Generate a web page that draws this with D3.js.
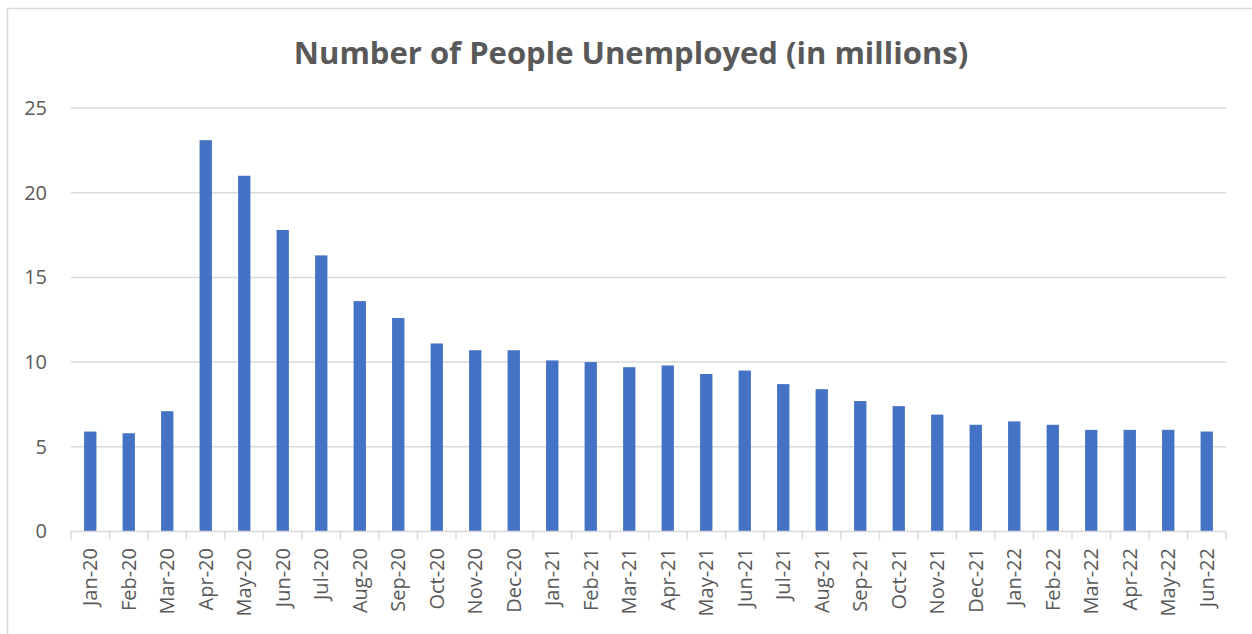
<!DOCTYPE html>
<html>
<head>
<meta charset="utf-8">
<script src="https://cdn.jsdelivr.net/npm/d3@7"></script>
<style>
  html, body { margin: 0; padding: 0; background: #fff; }
  svg { display: block; }
  text { font-family: "Open Sans", "Noto Sans", sans-serif; fill: #595959; }
</style>
</head>
<body>
<svg id="chart" width="1252" height="634"></svg>
<script>
// Monthly unemployment, millions of people
const months = ["Jan-20","Feb-20","Mar-20","Apr-20","May-20","Jun-20","Jul-20","Aug-20","Sep-20","Oct-20","Nov-20","Dec-20",
                "Jan-21","Feb-21","Mar-21","Apr-21","May-21","Jun-21","Jul-21","Aug-21","Sep-21","Oct-21","Nov-21","Dec-21",
                "Jan-22","Feb-22","Mar-22","Apr-22","May-22","Jun-22"];
const unemployed = [5.9, 5.8, 7.1, 23.1, 21.0, 17.8, 16.3, 13.6, 12.6, 11.1, 10.7, 10.7,
                    10.1, 10.0, 9.7, 9.8, 9.3, 9.5, 8.7, 8.4, 7.7, 7.4, 6.9, 6.3,
                    6.5, 6.3, 6.0, 6.0, 6.0, 5.9];
const yTicks = [0, 5, 10, 15, 20, 25];
const title = "Number of People Unemployed (in millions)";

const svg = d3.select("#chart");
const W = 1252, H = 634;
const plot = { left: 71, right: 1226, top: 108, bottom: 531.5 };

// Chart frame (left and top edges show inside the view)
svg.append("rect")
  .attr("x", 7.5).attr("y", 8.5)
  .attr("width", W).attr("height", H)
  .attr("fill", "none").attr("stroke", "#d9d9d9").attr("stroke-width", 1.5);

const x = d3.scaleBand().domain(months).range([plot.left, plot.right])
  .paddingInner(0.68).paddingOuter(0.34);
const y = d3.scaleLinear().domain([0, 25]).range([plot.bottom, plot.top]);

// Horizontal gridlines
svg.append("g").selectAll("line").data(yTicks.filter(d => d > 0)).join("line")
  .attr("x1", plot.left).attr("x2", plot.right)
  .attr("y1", d => y(d)).attr("y2", d => y(d))
  .attr("stroke", "#d9d9d9").attr("stroke-width", 1.5);

// Y axis labels
const yAxis = svg.append("g").attr("transform", `translate(${plot.left},0)`)
  .call(d3.axisLeft(y).tickValues(yTicks).tickSize(0).tickPadding(24));
yAxis.select(".domain").remove();
yAxis.selectAll("text")
  .style("font-family", '"Open Sans", sans-serif')
  .attr("fill", "#595959").style("font-size", "20px");

// Bars
svg.append("g").selectAll("rect").data(unemployed).join("rect")
  .attr("x", (d, i) => x(months[i]))
  .attr("y", d => y(d))
  .attr("width", x.bandwidth())
  .attr("height", d => y(0) - y(d))
  .attr("fill", "#4472c4");

// Category axis: baseline with ticks on band edges
const step = x.step();
const edges = d3.range(months.length + 1).map(i => plot.left + i * step);
svg.append("line")
  .attr("x1", plot.left).attr("x2", plot.right)
  .attr("y1", y(0)).attr("y2", y(0))
  .attr("stroke", "#d9d9d9").attr("stroke-width", 1.5);
svg.append("g").selectAll("line").data(edges).join("line")
  .attr("x1", d => d).attr("x2", d => d)
  .attr("y1", y(0)).attr("y2", y(0) + 8)
  .attr("stroke", "#d9d9d9").attr("stroke-width", 1.5);

// Rotated month labels
svg.append("g").selectAll("text").data(months).join("text")
  .attr("transform", d => `translate(${x(d) + x.bandwidth() / 2},548) rotate(-90)`)
  .attr("text-anchor", "end")
  .attr("dy", "0.35em")
  .style("font-size", "20px")
  .text(d => d);

// Title
svg.append("text")
  .attr("x", 631)
  .attr("y", 64)
  .attr("text-anchor", "middle")
  .style("font-size", "31px")
  .style("font-weight", "bold")
  .text(title);
</script>
</body>
</html>
